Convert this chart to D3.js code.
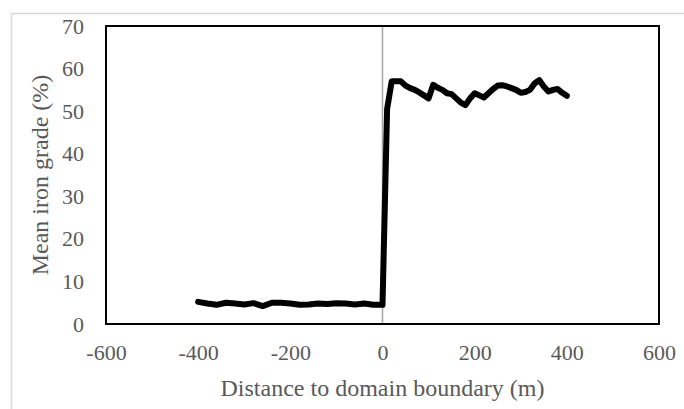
<!DOCTYPE html>
<html>
<head>
    <meta charset="utf-8" />
    <title>Mean iron grade vs distance</title>
    <script src="https://d3js.org/d3.v7.min.js" charset="utf-8"></script>
    <style>
        body { margin: 0; background: #fff; }
    </style>
</head>
<body>
    <script>
        // Distance to the domain boundary (m)
        const distance = [
            -400, -380, -360, -340, -320, -300, -280, -260, -240, -220,
            -200, -180, -160, -140, -120, -100, -80, -60, -40, -20, 0,
            10, 20, 30, 40, 50, 60, 70, 80, 90, 100,
            110, 120, 130, 140, 150, 160, 170, 180, 190, 200,
            210, 220, 230, 240, 250, 260, 270, 280, 290, 300,
            310, 320, 330, 340, 350, 360, 370, 380, 390, 400
        ];
        // Mean iron grade (%)
        const grade = [
            5.2, 4.8, 4.5, 5.0, 4.8, 4.6, 4.9, 4.2, 5.0, 5.0,
            4.8, 4.5, 4.6, 4.8, 4.7, 4.9, 4.8, 4.6, 4.8, 4.5, 4.5,
            50.5, 57.0, 57.0, 57.0, 56.0, 55.4, 55.0, 54.4, 53.7, 53.0,
            56.2, 55.5, 55.0, 54.2, 54.0, 53.0, 52.0, 51.4, 53.0, 54.2,
            53.7, 53.2, 54.2, 55.2, 56.0, 56.1, 55.8, 55.4, 55.0, 54.3,
            54.5, 55.0, 56.5, 57.3, 55.8, 54.6, 55.0, 55.2, 54.3, 53.6
        ];
        const xTicks = [-600, -400, -200, 0, 200, 400, 600];
        const yTicks = [0, 10, 20, 30, 40, 50, 60, 70];

        const data = distance.map((d, i) => ({ x: d, y: grade[i] }));

        const width = 684, height = 409;
        const margin = { top: 26, right: 25, bottom: 85, left: 106 };
        const serif = "'Liberation Serif', 'Times New Roman', serif";
        const textColor = "#595959";

        const svg = d3.select("body")
            .append("svg")
            .attr("width", width)
            .attr("height", height);

        // outer chart border (only top and left fall inside the picture)
        svg.append("path")
            .attr("d", `M11.5,${height} V13.5 H${width}`)
            .attr("fill", "none")
            .attr("stroke", "#d9d9d9")
            .attr("stroke-width", 1.5);

        const x = d3.scaleLinear()
            .domain([-600, 600])
            .range([margin.left, width - margin.right]);

        const y = d3.scaleLinear()
            .domain([0, 70])
            .range([height - margin.bottom, margin.top]);

        // vertical line at x = 0
        svg.append("line")
            .attr("x1", x(0)).attr("x2", x(0))
            .attr("y1", y(70)).attr("y2", y(0))
            .attr("stroke", "#a6a6a6")
            .attr("stroke-width", 1.5);

        // plot frame
        svg.append("rect")
            .attr("x", x(-600))
            .attr("y", y(70))
            .attr("width", x(600) - x(-600))
            .attr("height", y(0) - y(70))
            .attr("fill", "none")
            .attr("stroke", "#000")
            .attr("stroke-width", 2);

        // axes (labels only, plain hyphen for negatives)
        const xAxis = svg.append("g")
            .attr("transform", `translate(0,${y(0) + 36})`)
            .call(d3.axisBottom(x).tickValues(xTicks).tickSize(0).tickPadding(0)
                .tickFormat(d => String(d)));

        const yAxis = svg.append("g")
            .attr("transform", `translate(${x(-600) - 22},0)`)
            .call(d3.axisLeft(y).tickValues(yTicks).tickSize(0).tickPadding(0)
                .tickFormat(d => String(d)));

        [xAxis, yAxis].forEach(g => {
            g.select(".domain").remove();
            g.selectAll("text")
                .attr("fill", textColor)
                .style("font-family", serif)
                .style("font-size", "22px");
        });
        xAxis.selectAll("text").attr("y", 0).attr("dy", 0);

        // the data line
        const line = d3.line()
            .x(d => x(d.x))
            .y(d => y(d.y));

        svg.append("path")
            .datum(data)
            .attr("d", line)
            .attr("fill", "none")
            .attr("stroke", "#000")
            .attr("stroke-width", 6)
            .attr("stroke-linejoin", "round")
            .attr("stroke-linecap", "round");

        // axis titles
        svg.append("text")
            .attr("x", (x(-600) + x(600)) / 2)
            .attr("y", 396)
            .attr("text-anchor", "middle")
            .attr("fill", textColor)
            .style("font-family", serif)
            .style("font-size", "24px")
            .text("Distance to domain boundary (m)");

        svg.append("text")
            .attr("transform", `translate(48,${(y(0) + y(70)) / 2}) rotate(-90)`)
            .attr("text-anchor", "middle")
            .attr("fill", textColor)
            .style("font-family", serif)
            .style("font-size", "24px")
            .text("Mean iron grade (%)");
    </script>
</body>
</html>
